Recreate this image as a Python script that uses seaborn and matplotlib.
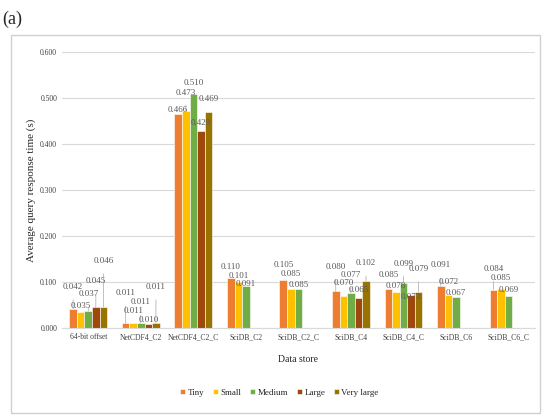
import numpy as np
import pandas as pd
import seaborn as sns
import matplotlib.pyplot as plt
from matplotlib.patches import Rectangle

stores = ['64-bit offset', 'NetCDF4_C2', 'NetCDF4_C2_C', 'SciDB_C2', 'SciDB_C2_C',
          'SciDB_C4', 'SciDB_C4_C', 'SciDB_C6', 'SciDB_C6_C']
sizes = ['Tiny', 'Small', 'Medium', 'Large', 'Very large']

tiny = [0.042, 0.011, 0.466, 0.110, 0.105, 0.080, 0.085, 0.091, 0.084]
small = [0.035, 0.011, 0.473, 0.101, 0.085, 0.070, 0.078, 0.072, 0.085]
medium = [0.037, 0.011, 0.510, 0.091, 0.085, 0.077, 0.099, 0.067, 0.069]
large = [0.045, 0.010, 0.429, np.nan, np.nan, 0.065, 0.073, np.nan, np.nan]
very_large = [0.046, 0.011, 0.469, np.nan, np.nan, 0.102, 0.079, np.nan, np.nan]

colors = ['#ED7D31', '#FFC000', '#70AD47', '#9E480E', '#997300']

# how far (px) each value label sits above its bar, per store, like Excel's dragged labels
label_lift = [
    [22, 6, 17, 26, 46],
    [30, 12, 21, 4, 36],
    [4, 18, 11, 8, 13],
    [11, 6, 2, 0, 0],
    [15, 15, 4, 0, 0],
    [24, 13, 18, 8, 18],
    [14, 6, 19, -2, 23],
    [21, 13, 4, 0, 0],
    [21, 11, 6, 0, 0],
]

rows = []
for name, vals in zip(sizes, [tiny, small, medium, large, very_large]):
    for s, v in zip(stores, vals):
        rows.append({'store': s, 'size': name, 'time': v})
df = pd.DataFrame(rows)

sns.set_style('white')
plt.rcParams['font.family'] = ['Liberation Serif', 'DejaVu Serif']

fig = plt.figure(figsize=(5.44, 4.17), dpi=100)
fig.text(0.005, 0.975, '(a)', fontsize=13, va='top')
fig.patches.append(Rectangle((0.02, 0.01), 0.972, 0.905, transform=fig.transFigure,
                             fill=False, edgecolor='#d0d0d0', linewidth=1.0))

ax = fig.add_axes([0.114, 0.213, 0.869, 0.662])
sns.barplot(data=df, x='store', y='time', hue='size', hue_order=sizes,
            palette=colors, saturation=1, width=0.72, edgecolor='white',
            linewidth=0.4, ax=ax, legend=True)

ax.set_ylim(0, 0.6)
ax.set_yticks(np.arange(0, 0.61, 0.1))
ax.set_yticklabels([f'{t:.3f}' for t in np.arange(0, 0.61, 0.1)], fontsize=5.5, color='#404040')
ax.tick_params(axis='x', labelsize=5.5, labelcolor='#404040', length=0)
ax.tick_params(axis='y', length=0)
ax.grid(axis='y', color='#d9d9d9', linewidth=0.8)
ax.set_axisbelow(True)
for sp in ['top', 'right', 'left']:
    ax.spines[sp].set_visible(False)
ax.spines['bottom'].set_color('#d9d9d9')
ax.set_xlabel('Data store', fontsize=7, labelpad=10)
ax.set_ylabel('Average query response time (s)', fontsize=8, labelpad=3)

for i, cont in enumerate(ax.containers):
    for bar in cont:
        h = bar.get_height()
        if np.isnan(h):
            continue
        xc = bar.get_x() + bar.get_width() / 2
        j = int(round(xc))  # store index (NaN bars are dropped, so go by position)
        lift = label_lift[j][i]
        dy = lift * 0.72
        # leader line for the labels pulled far from their bar
        arrow = dict(arrowstyle='-', color='#a6a6a6', lw=0.5, shrinkA=4, shrinkB=0) if lift >= 17 else None
        ax.annotate(f'{h:.3f}', (xc, h),
                    xytext=(0, dy), textcoords='offset points',
                    ha='center', va='center', fontsize=6.5, color='#595959',
                    arrowprops=arrow)

ax.legend(loc='center', bbox_to_anchor=(0.46, -0.234), ncol=5, frameon=False,
          fontsize=6.5, handlelength=0.5, handleheight=0.5, columnspacing=1.0,
          handletextpad=0.3)

fig.savefig('out.png', dpi=100)
